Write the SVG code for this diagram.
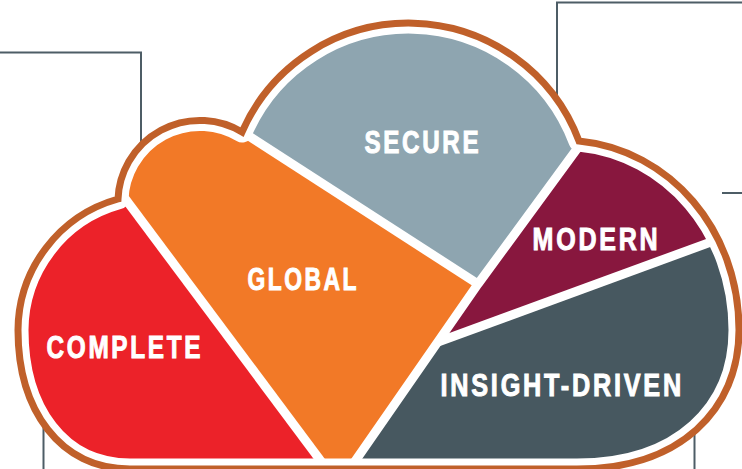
<svg xmlns="http://www.w3.org/2000/svg" width="742" height="469" viewBox="0 0 742 469">
  <style>
    .conn { fill: none; stroke: #4d5d66; stroke-width: 2; }
    .sep { fill: none; stroke: #ffffff; stroke-width: 9; stroke-linejoin: round; }
    .band { fill: none; stroke: #ffffff; stroke-width: 21; stroke-linejoin: round; }
    .outline { fill: none; stroke: #c0602a; stroke-width: 7; stroke-linejoin: miter; stroke-miterlimit: 3; }
    .label { font-family: "Liberation Sans", Arial, sans-serif; font-weight: bold; font-size: 32px; fill: #ffffff; stroke: #ffffff; stroke-width: 1; letter-spacing: 3.5px; }
  </style>
  <defs>
    <path id="cloudShape" d="M 130 469 C 60 469 18 410 18 330 A 137 137 0 0 1 118 199 A 82 82 0 0 1 242 132 A 182 182 0 0 1 579 141 C 670 150 739 230 739 330 C 739 410 680 469 577 469 Z"/>
    <clipPath id="cloudClip">
      <use href="#cloudShape"/>
    </clipPath>
  </defs>

  <rect x="0" y="0" width="742" height="469" fill="#ffffff"/>

  <g id="connectors">
    <polyline class="conn" points="0,52.5 141,52.5 141,145"/>
    <polyline class="conn" points="557,98 557,2.5 742,2.5"/>
    <line class="conn" x1="722" y1="193" x2="742" y2="193"/>
    <line class="conn" x1="43.5" y1="420" x2="43.5" y2="469"/>
    <line class="conn" x1="694.5" y1="432" x2="694.5" y2="469"/>
  </g>

  <g id="cloud">
    <use href="#cloudShape" fill="#ffffff"/>
    <g clip-path="url(#cloudClip)">
      <g id="node-complete">
        <polygon points="-23,0 335,480 -50,480 -50,0" fill="#ec2229"/>
        <text class="label" transform="translate(46.5,358) scale(0.762,1)">COMPLETE</text>
      </g>
      <g id="node-global">
        <polygon points="-23,0 38,0 478,284 342,480 335,480" fill="#f27927"/>
        <text class="label" transform="translate(247.5,290) scale(0.715,1)">GLOBAL</text>
      </g>
      <g id="node-secure">
        <polygon points="38,0 478,284 686,0" fill="#8ea5b0"/>
        <text class="label" transform="translate(364.5,153) scale(0.757,1)">SECURE</text>
      </g>
      <g id="node-modern">
        <polygon points="686,0 760,0 760,224 438,342 478,284" fill="#88173e"/>
        <text class="label" transform="translate(532.5,250) scale(0.784,1)">MODERN</text>
      </g>
      <g id="node-insight-driven">
        <polygon points="438,342 760,224 760,480 342,480" fill="#475860"/>
        <text class="label" transform="translate(440.5,396) scale(0.789,1)">INSIGHT-DRIVEN</text>
      </g>
      <g id="separators">
        <line class="sep" x1="-23" y1="0" x2="335" y2="480"/>
        <line class="sep" x1="38" y1="0" x2="478" y2="284"/>
        <polyline class="sep" points="686,0 478,284 342,480"/>
        <line class="sep" x1="438" y1="342" x2="760" y2="224"/>
      </g>
      <use href="#cloudShape" class="band"/>
    </g>
    <use href="#cloudShape" class="outline"/>
  </g>
</svg>
